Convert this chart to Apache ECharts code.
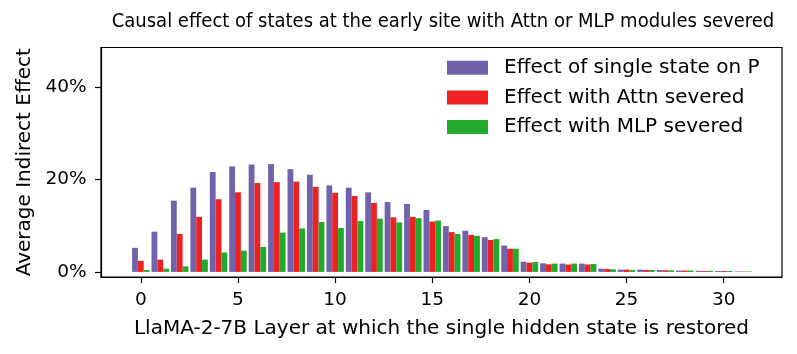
<!DOCTYPE html>
<html>
<head>
<meta charset="utf-8">
<script src="https://cdn.jsdelivr.net/npm/echarts@6/dist/echarts.min.js"></script>
<style>
html,body{margin:0;padding:0;background:#fff;}
#chart{width:797px;height:354px;}
</style>
</head>
<body>
<div id="chart"></div>
<script>
const layers = Array.from({length: 32}, (_, i) => i);
const singleState = [5.2, 8.7, 15.4, 18.2, 21.6, 22.8, 23.2, 23.3, 22.2, 21.0, 18.7, 18.2, 17.2, 15.1, 14.7, 13.4, 9.9, 8.9, 7.5, 5.7, 2.2, 1.85, 1.8, 1.8, 0.7, 0.5, 0.5, 0.4, 0.3, 0.25, 0.2, 0.1];
const attnSevered = [2.4, 2.65, 8.2, 11.9, 15.7, 17.2, 19.2, 19.4, 19.5, 18.4, 17.1, 16.4, 14.9, 11.8, 11.9, 10.9, 8.6, 8.0, 6.9, 5.0, 2.0, 1.65, 1.6, 1.6, 0.65, 0.5, 0.4, 0.35, 0.3, 0.2, 0.2, 0.1];
const mlpSevered = [0.4, 0.7, 1.2, 2.65, 4.2, 4.6, 5.4, 8.5, 9.4, 10.8, 9.5, 11.0, 11.5, 10.7, 11.6, 11.1, 8.2, 7.8, 7.1, 5.0, 2.15, 1.8, 1.8, 1.7, 0.55, 0.4, 0.4, 0.35, 0.3, 0.25, 0.2, 0.1];
const seriesNames = ['Effect of single state on P', 'Effect with Attn severed', 'Effect with MLP severed'];
const xTicks = [0, 5, 10, 15, 20, 25, 30];
const yTicks = [0, 20, 40];

const colors = ['#7262ac', '#ee2222', '#22aa2a'];
const font = 'DejaVu Sans';
const chart = echarts.init(document.getElementById('chart'), null, {renderer: 'canvas'});
const pxPerLayer = (782 - 101) / (33.0 + 2.05);
const bw = 0.3 * pxPerLayer;
function mk(vals, i) {
  return {
    name: seriesNames[i],
    type: 'bar',
    data: layers.map((l, k) => [l, vals[k]]),
    barWidth: bw,
    barGap: '0%',
    itemStyle: {color: colors[i]},
    animation: false
  };
}
chart.setOption({
  animation: false,
  textStyle: {fontFamily: font},
  title: {
    text: 'Causal effect of states at the early site with Attn or MLP modules severed',
    left: 443, textAlign: 'center', top: 12, padding: 0,
    textStyle: {fontFamily: "'DejaVu Sans Condensed', 'DejaVu Sans'", fontSize: 20, lineHeight: 20, fontWeight: 'normal', color: '#000'}
  },
  legend: {
    orient: 'vertical', left: 447, top: 57.7, padding: 0,
    itemWidth: 41, itemHeight: 14, itemGap: 9.7,
    icon: 'rect',
    textStyle: {fontFamily: font, fontSize: 20, color: '#000', lineHeight: 20, padding: [0, 0, 0, 11]},
    data: seriesNames
  },
  grid: {left: 101, right: 15, top: 47.5, bottom: 77, show: true, borderColor: '#000', borderWidth: 1.2, backgroundColor: 'transparent'},
  xAxis: {
    type: 'value', min: -2.05, max: 33.0,
    name: 'LlaMA-2-7B Layer at which the single hidden state is restored',
    nameLocation: 'middle', nameGap: 42,
    nameTextStyle: {fontFamily: font, fontSize: 20, color: '#000'},
    axisLine: {show: true, onZero: false, lineStyle: {color: '#000', width: 1.2}},
    axisTick: {show: true, length: 6, inside: false, customValues: xTicks, lineStyle: {color: '#000', width: 1.2}},
    axisLabel: {customValues: xTicks, fontFamily: font, fontSize: 18.5, color: '#000', margin: 14},
    splitLine: {show: false}
  },
  yAxis: {
    type: 'value', min: -1.1, max: 48.5,
    name: 'Average Indirect Effect',
    nameLocation: 'middle', nameGap: 64, nameRotate: 90,
    nameTextStyle: {fontFamily: font, fontSize: 20, color: '#000'},
    axisLine: {show: true, onZero: false, lineStyle: {color: '#000', width: 1.2}},
    axisTick: {show: true, length: 6, customValues: yTicks, lineStyle: {color: '#000', width: 1.2}},
    axisLabel: {customValues: yTicks, fontFamily: font, fontSize: 18.5, color: '#000', margin: 14.5, formatter: v => v + '%'},
    splitLine: {show: false}
  },
  series: [mk(singleState, 0), mk(attnSevered, 1), mk(mlpSevered, 2)]
});
</script>
</body>
</html>
